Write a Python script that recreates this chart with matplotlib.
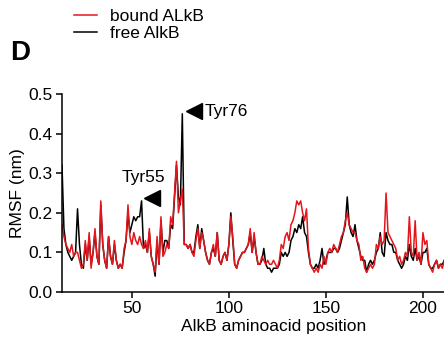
import numpy as np
import matplotlib
matplotlib.use("Agg")
import matplotlib.pyplot as plt

plt.rcParams['font.family'] = ['Liberation Sans', 'DejaVu Sans']

# residue numbers shown on the x axis
residues = np.arange(14, 212)

# RMSF (nm) of free AlkB
free_rmsf = [
    0.32, 0.16, 0.12, 0.10, 0.09, 0.08, 0.09, 0.10, 0.21, 0.12,
    0.07, 0.06, 0.12, 0.08, 0.14, 0.07, 0.10, 0.15, 0.09, 0.07,
    0.22, 0.12, 0.08, 0.06, 0.14, 0.09, 0.07, 0.12, 0.08, 0.06,
    0.07, 0.06, 0.10, 0.13, 0.20, 0.15, 0.17, 0.19, 0.18, 0.19,
    0.19, 0.23, 0.11, 0.12, 0.10, 0.15, 0.09, 0.07, 0.04, 0.13,
    0.07, 0.18, 0.10, 0.13, 0.13, 0.11, 0.17, 0.16, 0.24, 0.32,
    0.24, 0.22, 0.45, 0.12, 0.12, 0.11, 0.12, 0.10, 0.10, 0.14,
    0.17, 0.11, 0.16, 0.13, 0.10, 0.08, 0.07, 0.10, 0.11, 0.09,
    0.15, 0.08, 0.07, 0.09, 0.10, 0.08, 0.12, 0.20, 0.13, 0.07,
    0.06, 0.08, 0.09, 0.10, 0.10, 0.11, 0.12, 0.15, 0.10, 0.14,
    0.10, 0.07, 0.07, 0.08, 0.11, 0.07, 0.06, 0.06, 0.05, 0.06,
    0.06, 0.06, 0.07, 0.10, 0.09, 0.10, 0.09, 0.10, 0.13, 0.14,
    0.16, 0.15, 0.17, 0.16, 0.19, 0.15, 0.14, 0.10, 0.07, 0.06,
    0.06, 0.07, 0.06, 0.08, 0.11, 0.07, 0.08, 0.10, 0.10, 0.10,
    0.11, 0.11, 0.10, 0.11, 0.13, 0.15, 0.17, 0.24, 0.17, 0.15,
    0.14, 0.17, 0.13, 0.11, 0.09, 0.08, 0.08, 0.05, 0.07, 0.08,
    0.07, 0.08, 0.10, 0.11, 0.15, 0.10, 0.09, 0.15, 0.13, 0.12,
    0.12, 0.10, 0.10, 0.08, 0.07, 0.06, 0.07, 0.09, 0.08, 0.12,
    0.09, 0.08, 0.11, 0.08, 0.09, 0.07, 0.10, 0.10, 0.11, 0.07,
    0.06, 0.06, 0.07, 0.08, 0.06, 0.07, 0.07, 0.08,
]

# RMSF (nm) of bound AlkB
bound_rmsf = [
    0.17, 0.14, 0.12, 0.11, 0.10, 0.12, 0.09, 0.10, 0.10, 0.08,
    0.06, 0.07, 0.13, 0.08, 0.15, 0.06, 0.10, 0.16, 0.09, 0.07,
    0.23, 0.12, 0.08, 0.06, 0.14, 0.09, 0.07, 0.13, 0.08, 0.06,
    0.07, 0.06, 0.11, 0.13, 0.22, 0.14, 0.12, 0.15, 0.13, 0.12,
    0.14, 0.12, 0.11, 0.13, 0.10, 0.16, 0.09, 0.07, 0.05, 0.14,
    0.07, 0.19, 0.09, 0.10, 0.12, 0.11, 0.19, 0.17, 0.25, 0.33,
    0.20, 0.23, 0.26, 0.12, 0.12, 0.11, 0.12, 0.10, 0.09, 0.13,
    0.16, 0.11, 0.15, 0.13, 0.10, 0.08, 0.07, 0.10, 0.12, 0.09,
    0.15, 0.08, 0.07, 0.09, 0.10, 0.08, 0.12, 0.19, 0.14, 0.07,
    0.06, 0.08, 0.09, 0.10, 0.10, 0.11, 0.12, 0.16, 0.10, 0.15,
    0.10, 0.07, 0.07, 0.09, 0.08, 0.07, 0.08, 0.07, 0.07, 0.08,
    0.07, 0.06, 0.08, 0.12, 0.11, 0.14, 0.15, 0.13, 0.17, 0.18,
    0.20, 0.23, 0.22, 0.23, 0.20, 0.18, 0.21, 0.11, 0.07, 0.06,
    0.05, 0.06, 0.05, 0.07, 0.06, 0.09, 0.07, 0.10, 0.11, 0.10,
    0.12, 0.11, 0.10, 0.12, 0.14, 0.15, 0.18, 0.20, 0.17, 0.16,
    0.15, 0.15, 0.13, 0.12, 0.08, 0.09, 0.06, 0.05, 0.06, 0.07,
    0.06, 0.07, 0.12, 0.11, 0.14, 0.12, 0.13, 0.25, 0.15, 0.14,
    0.13, 0.12, 0.11, 0.08, 0.09, 0.07, 0.08, 0.10, 0.09, 0.19,
    0.10, 0.09, 0.18, 0.08, 0.10, 0.07, 0.15, 0.12, 0.13, 0.07,
    0.06, 0.05, 0.07, 0.08, 0.06, 0.07, 0.06, 0.08,
]

# annotated residues
tyr_labels = ['Tyr55', 'Tyr76']
arrow_x = [60.5, 82.0]
arrow_y = [0.237, 0.457]
text_x = [56.0, 87.5]
text_y = [0.288, 0.457]

red = '#e3161d'

fig = plt.figure(figsize=(4.44, 3.42), dpi=100)
# axes runs past the right edge, the original panel is cropped there
ax = fig.add_axes([62 / 444, 50 / 342, 424 / 444, 198 / 342])

ax.plot(residues, free_rmsf, color='black', lw=1.1, label='free AlkB')
ax.plot(residues, bound_rmsf, color=red, lw=1.1, label='bound ALkB')

ax.plot(arrow_x, arrow_y, ls='none', marker='<', ms=11, color='black')
ax.text(text_x[0], text_y[0], tyr_labels[0], fontsize=12.5, ha='center', va='center')
ax.text(text_x[1], text_y[1], tyr_labels[1], fontsize=12.5, ha='left', va='center')

ax.set_xlim(14, 232.5)
ax.set_ylim(0, 0.5)
ax.set_xticks([50, 100, 150, 200])
ax.set_yticks([0.0, 0.1, 0.2, 0.3, 0.4, 0.5])
ax.set_yticklabels(['0.0', '0.1', '0.2', '0.3', '0.4', '0.5'])
ax.tick_params(labelsize=12.5, length=4.5, width=1.1, pad=2)
ax.spines['top'].set_visible(False)
ax.spines['right'].set_visible(False)
ax.spines['left'].set_linewidth(1.1)
ax.spines['bottom'].set_linewidth(1.1)
ax.set_xlabel('AlkB aminoacid position', fontsize=12.5, labelpad=2)
ax.set_ylabel('RMSF (nm)', fontsize=12.5, labelpad=3)

# legend at the top, bound first
h, l = ax.get_legend_handles_labels()
fig.legend([h[1], h[0]], [l[1], l[0]], loc='upper left',
           bbox_to_anchor=(74 / 444, 1 - 9 / 342), frameon=False,
           fontsize=12.5, handlelength=1.35, handletextpad=0.7,
           labelspacing=0.12, borderpad=0, borderaxespad=0)

fig.text(10 / 444, 1 - 60 / 342, 'D', fontsize=20, fontweight='bold')

fig.savefig('out.png', dpi=100)
